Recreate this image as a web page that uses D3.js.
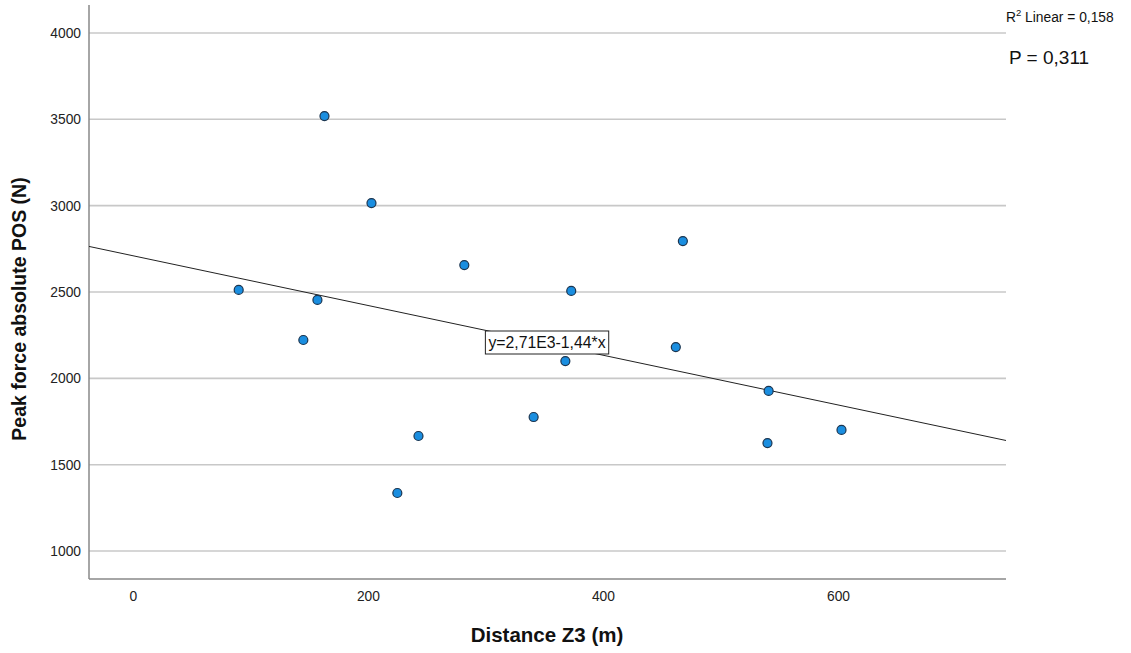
<!DOCTYPE html>
<html><head><meta charset="utf-8">
<script src="https://cdn.jsdelivr.net/npm/d3@7"></script>
<style>body{margin:0;background:#fff}svg{display:block;font-family:"Liberation Sans",Arial,sans-serif}</style>
</head><body><svg id="c" width="1131" height="653"></svg>
<script>
const distance = [90, 163, 203, 157, 145, 282, 243, 225, 341, 373, 368, 468, 462, 541, 540, 603];
const peakForce = [2512, 3519, 3015, 2454, 2222, 2656, 1666, 1336, 1776, 2506, 2100, 2795, 2181, 1927, 1625, 1701];
const xTicks = [0, 200, 400, 600];
const yTicks = [1000, 1500, 2000, 2500, 3000, 3500, 4000];
const fitIntercept = 2710, fitSlope = -1.44;
const fitLabel = "y=2,71E3-1,44*x";
const r2Label = "0,158", pLabel = "P = 0,311";

const svg = d3.select("#c");
const L = 89, R = 1006, T = 5, B = 579;
const x = d3.scaleLinear().domain([-37.4, 743]).range([L, R]);
const y = d3.scaleLinear().domain([838, 4162]).range([B, T]);

// gridlines
svg.append("g").selectAll("line").data(yTicks).join("line")
  .attr("x1", L).attr("x2", R).attr("y1", d => y(d)).attr("y2", d => y(d))
  .attr("stroke", "#c8c8c8").attr("stroke-width", 1.6);

// axes
const yAx = svg.append("g").attr("transform", `translate(${L},0)`)
  .call(d3.axisLeft(y).tickValues(yTicks).tickFormat(d3.format("d")).tickSize(0).tickPadding(8));
const xAx = svg.append("g").attr("transform", `translate(0,${B})`)
  .call(d3.axisBottom(x).tickValues(xTicks).tickFormat(d3.format("d")).tickSize(0).tickPadding(12));
[yAx, xAx].forEach(a => {
  a.attr("font-size", 13.8).attr("font-family", '"Liberation Sans",Arial,sans-serif');
  a.select(".domain").attr("stroke", "#888").attr("stroke-width", 1.5);
  a.selectAll("text").attr("fill", "#222");
});
yAx.select(".domain").attr("d", `M0,${T}V${B}`);
xAx.select(".domain").attr("d", `M${L},0H${R}`);

// fit line
const xd = x.domain();
svg.append("line")
  .attr("x1", x(xd[0])).attr("y1", y(fitIntercept + fitSlope * xd[0]))
  .attr("x2", x(xd[1])).attr("y2", y(fitIntercept + fitSlope * xd[1]))
  .attr("stroke", "#222").attr("stroke-width", 1);

// points
svg.append("g").selectAll("circle").data(distance).join("circle")
  .attr("cx", d => x(d)).attr("cy", (d, i) => y(peakForce[i])).attr("r", 4.5)
  .attr("fill", "#1a8ee0").attr("stroke", "#1b3550").attr("stroke-width", 1.2);

// fit label box
const lx = 547, ly = 342.5;
const lg = svg.append("g");
const rect = lg.append("rect");
const lt = lg.append("text").attr("x", lx).attr("y", ly + 5.5).attr("text-anchor", "middle")
  .attr("font-size", 15.8).attr("fill", "#111").text(fitLabel);
const bb = lt.node().getBBox();
rect.attr("x", bb.x - 3).attr("y", ly - 11.5).attr("width", bb.width + 6).attr("height", 23)
  .attr("fill", "#fff").attr("stroke", "#222").attr("stroke-width", 1);

// R2 label
const r2 = svg.append("text").attr("x", 1006).attr("y", 22).attr("font-size", 13.8).attr("fill", "#111");
r2.append("tspan").text("R");
r2.append("tspan").attr("font-size", 9.5).attr("dy", -6).text("2");
r2.append("tspan").attr("dy", 6).text(" Linear = " + r2Label);
svg.append("text").attr("x", 1009).attr("y", 64).attr("font-size", 19).attr("fill", "#111").text(pLabel);

// axis titles
svg.append("text").attr("x", 547).attr("y", 642).attr("text-anchor", "middle")
  .attr("font-size", 20.5).attr("font-weight", "bold").attr("fill", "#111").text("Distance Z3 (m)");
svg.append("text").attr("transform", "translate(26,309) rotate(-90)").attr("text-anchor", "middle")
  .attr("font-size", 19.5).attr("font-weight", "bold").attr("fill", "#111").text("Peak force absolute POS (N)");
</script></body></html>
